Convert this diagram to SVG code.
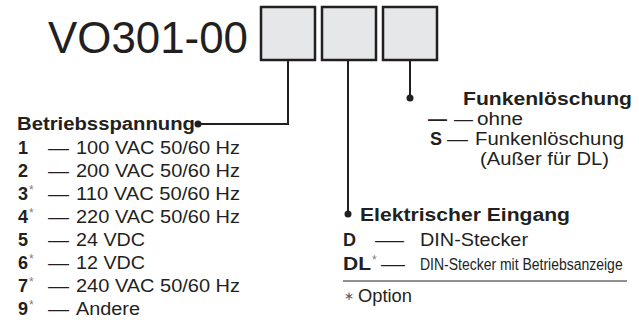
<svg xmlns="http://www.w3.org/2000/svg" width="639" height="329" viewBox="0 0 639 329">
<style>
text{font-family:"Liberation Sans",Arial,sans-serif;fill:#231f20}
.t{font-size:45px}
.h{font-size:18px;font-weight:bold}
.r{font-size:18px}
.b{font-size:18px;font-weight:bold}
.ast{font-size:12px;fill:#808080}
.box{fill:#e6e7e8;stroke:#231f20;stroke-width:2.5}
.ln{fill:none;stroke:#231f20;stroke-width:2}
.dot{fill:#231f20}
</style>
<rect width="639" height="329" fill="#fff"/>
<g id="title"><text class="t" x="48" y="53" textLength="200" lengthAdjust="spacingAndGlyphs">VO301-00</text></g>
<g id="box1"><rect class="box" x="261" y="7" width="54" height="53"/></g>
<g id="box2"><rect class="box" x="322" y="7" width="54" height="53"/></g>
<g id="box3"><rect class="box" x="383" y="7" width="54" height="53"/></g>
<g id="connectors">
<polyline class="ln" points="288,60 288,124 198,124"/>
<circle class="dot" cx="198" cy="124" r="3.5"/>
<line class="ln" x1="348" y1="60" x2="348" y2="214"/>
<circle class="dot" cx="348" cy="214" r="3.5"/>
<line class="ln" x1="410" y1="60" x2="410" y2="98"/>
<circle class="dot" cx="410" cy="98" r="3.5"/>
</g>
<g id="betriebsspannung">
<text class="h" x="17" y="130" textLength="178" lengthAdjust="spacingAndGlyphs">Betriebsspannung</text>
<text class="b" x="18" y="154">1</text><text class="r" x="48" y="154" textLength="21" lengthAdjust="spacingAndGlyphs">—</text><text class="r" x="76" y="154" textLength="164" lengthAdjust="spacingAndGlyphs">100 VAC 50/60 Hz</text>
<text class="b" x="18" y="177">2</text><text class="r" x="48" y="177" textLength="21" lengthAdjust="spacingAndGlyphs">—</text><text class="r" x="76" y="177" textLength="164" lengthAdjust="spacingAndGlyphs">200 VAC 50/60 Hz</text>
<text class="b" x="18" y="200">3</text><text class="ast" x="29" y="194">*</text><text class="r" x="48" y="200" textLength="21" lengthAdjust="spacingAndGlyphs">—</text><text class="r" x="76" y="200" textLength="164" lengthAdjust="spacingAndGlyphs">110 VAC 50/60 Hz</text>
<text class="b" x="18" y="223">4</text><text class="ast" x="29" y="217">*</text><text class="r" x="48" y="223" textLength="21" lengthAdjust="spacingAndGlyphs">—</text><text class="r" x="76" y="223" textLength="164" lengthAdjust="spacingAndGlyphs">220 VAC 50/60 Hz</text>
<text class="b" x="18" y="246">5</text><text class="r" x="48" y="246" textLength="21" lengthAdjust="spacingAndGlyphs">—</text><text class="r" x="76" y="246" textLength="69" lengthAdjust="spacingAndGlyphs">24 VDC</text>
<text class="b" x="18" y="269">6</text><text class="ast" x="29" y="263">*</text><text class="r" x="48" y="269" textLength="21" lengthAdjust="spacingAndGlyphs">—</text><text class="r" x="76" y="269" textLength="69" lengthAdjust="spacingAndGlyphs">12 VDC</text>
<text class="b" x="18" y="292">7</text><text class="ast" x="29" y="286">*</text><text class="r" x="48" y="292" textLength="21" lengthAdjust="spacingAndGlyphs">—</text><text class="r" x="76" y="292" textLength="164" lengthAdjust="spacingAndGlyphs">240 VAC 50/60 Hz</text>
<text class="b" x="18" y="315">9</text><text class="ast" x="29" y="309">*</text><text class="r" x="48" y="315" textLength="21" lengthAdjust="spacingAndGlyphs">—</text><text class="r" x="76" y="315" textLength="64" lengthAdjust="spacingAndGlyphs">Andere</text>
</g>
<g id="funkenloeschung">
<text class="h" x="463" y="105" textLength="169" lengthAdjust="spacingAndGlyphs">Funkenlöschung</text>
<text class="b" x="428" y="125" textLength="19" lengthAdjust="spacingAndGlyphs">—</text><text class="r" x="454" y="125" textLength="19" lengthAdjust="spacingAndGlyphs">—</text><text class="r" x="477" y="125" textLength="46" lengthAdjust="spacingAndGlyphs">ohne</text>
<text class="b" x="430" y="145">S</text><text class="r" x="447" y="145" textLength="21" lengthAdjust="spacingAndGlyphs">—</text><text class="r" x="475" y="145" textLength="149" lengthAdjust="spacingAndGlyphs">Funkenlöschung</text>
<text class="r" x="480" y="165" textLength="129" lengthAdjust="spacingAndGlyphs">(Außer für DL)</text>
</g>
<g id="eingang">
<text class="h" x="360" y="221" textLength="210" lengthAdjust="spacingAndGlyphs">Elektrischer Eingang</text>
<text class="b" x="343" y="246">D</text><text class="r" x="375" y="246" textLength="29" lengthAdjust="spacingAndGlyphs">—</text><text class="r" x="420" y="246" textLength="108" lengthAdjust="spacingAndGlyphs">DIN-Stecker</text>
<text class="b" x="343" y="270" textLength="28" lengthAdjust="spacingAndGlyphs">DL</text><text class="ast" x="372" y="264">*</text><text class="r" x="381" y="270" textLength="24" lengthAdjust="spacingAndGlyphs">—</text><text class="r" transform="translate(420 270) scale(0.823 1)" x="0" y="0" style="font-size:17px">DIN-Stecker mit Betriebsanzeige</text>
</g>
<g id="note">
<line x1="343" y1="281" x2="627" y2="281" stroke="#231f20" stroke-width="1"/>
<text x="344" y="300" style="font-size:12px;fill:#555">∗</text>
<text class="r" x="358" y="302" textLength="54" lengthAdjust="spacingAndGlyphs">Option</text>
</g>
</svg>
